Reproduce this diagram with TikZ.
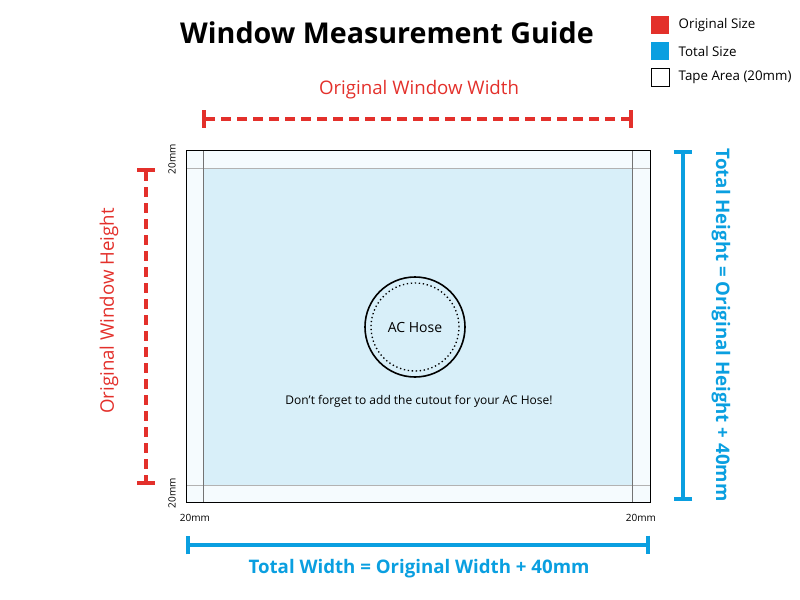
\documentclass[tikz,border=0pt]{standalone}
\usepackage{fontspec}
\setmainfont{Open Sans}
\usetikzlibrary{arrows.meta}
\definecolor{origred}{HTML}{E3302B}
\definecolor{totblue}{HTML}{0A9FE0}
\definecolor{paneblue}{HTML}{D8EFF9}
\definecolor{tapefill}{HTML}{F5FBFE}
\tikzset{
  origline/.style={origred,line width=3pt,dash pattern=on 7.5pt off 4.5pt,{Bar[width=13pt]}-{Bar[width=13pt]}},
  totline/.style={totblue,line width=3pt,{Bar[width=14pt]}-{Bar[width=14pt]}},
  keybox/.style={minimum size=13.5pt,inner sep=0pt,anchor=north west},
  keytext/.style={anchor=west,font=\fontsize{10}{12}\selectfont},
  mm/.style={font=\fontsize{7.5}{9}\selectfont}
}
\begin{document}
\begin{tikzpicture}[x=0.75pt,y=-0.75pt]
\useasboundingbox (0,0) rectangle (800,600);
\node (title) [font=\fontsize{21.5}{25}\selectfont\bfseries] at (387,33) {Window Measurement Guide};

% legend
\node (kr) [keybox,fill=origred] at (651,16) {};
\node [keytext] at (674,25) {Original Size};
\node (kb) [keybox,fill=totblue] at (651,42) {};
\node [keytext] at (674,51) {Total Size};
\node (kt) [keybox,draw=black,line width=0.6pt] at (651,68) {};
\node [keytext] at (674,77) {Tape Area (20mm)};

% window
\fill[tapefill] (186,150) rectangle (650,502);
\fill[paneblue] (203,168) rectangle (632,485);
\draw[gray!60,line width=0.6pt] (186,168) -- (650,168) (186,485) -- (650,485);
\draw[gray!90!black,line width=0.7pt] (203,150) -- (203,502) (632,150) -- (632,502);
\draw[black,line width=0.7pt] (186,150) rectangle (650,502);

% hose
\node (hose) [circle,draw,line width=1.2pt,minimum size=75pt] at (415,327) {};
\node [circle,draw,dotted,line width=1pt,minimum size=66pt] at (hose) {};
\node at (hose) [font=\fontsize{10.5}{12}\selectfont] {AC Hose};
\node (note) at (419,401) [font=\fontsize{9}{11}\selectfont] {Don’t forget to add the cutout for your AC Hose!};

% 20mm marks
\node [mm,rotate=90] at (172,159) {20mm};
\node [mm,rotate=90] at (172,493) {20mm};
\node [mm] at (195,518) {20mm};
\node [mm] at (641,518) {20mm};

% dimensions
\coordinate (wl) at (202,119); \coordinate (wr) at (633,119);
\draw[origline] (wl) -- (wr);
\node [origred,font=\fontsize{14}{16}\selectfont] at (419,90) {Original Window Width};
\coordinate (ht) at (146,168); \coordinate (hb) at (146,485);
\draw[origline] (ht) -- (hb);
\node [origred,rotate=90,font=\fontsize{14}{16}\selectfont] at (109,311) {Original Window Height};
\coordinate (tt) at (683,150); \coordinate (tb) at (683,501);
\draw[totline] (tt) -- (tb);
\node [totblue,rotate=-90,font=\fontsize{14}{16}\selectfont\bfseries] at (721,325) {Total Height = Original Height + 40mm};
\coordinate (bl) at (186,545); \coordinate (br) at (650,545);
\draw[totline] (bl) -- (br);
\node [totblue,font=\fontsize{14}{16}\selectfont\bfseries] at (419,569) {Total Width = Original Width + 40mm};
\end{tikzpicture}
\end{document}
